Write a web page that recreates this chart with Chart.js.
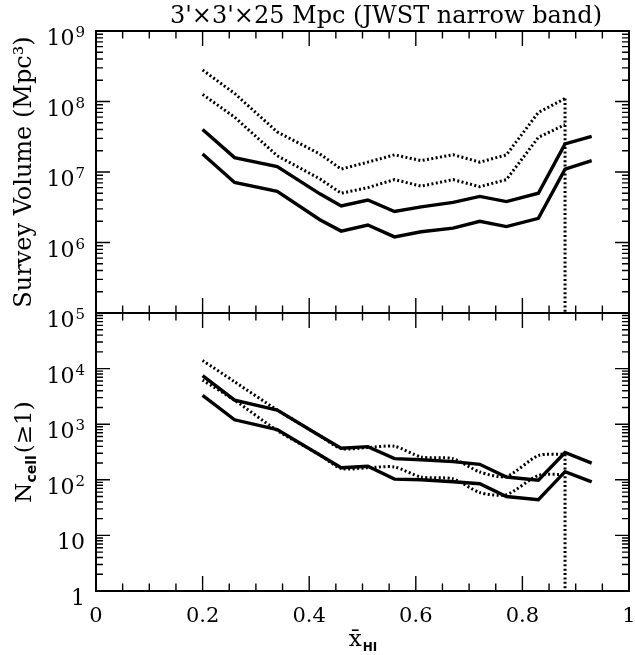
<!DOCTYPE html>
<html>
<head>
<meta charset="utf-8">
<script src="https://cdn.jsdelivr.net/npm/chart.js@4.4.0/dist/chart.umd.min.js"></script>
<style>
  body { margin: 0; background: #fff; }
</style>
</head>
<body>
<canvas id="chart" width="635" height="655"></canvas>
<script>
// mean neutral fraction of each run
let xHI = [0.2, 0.26, 0.34, 0.42, 0.46, 0.51, 0.56, 0.61, 0.67, 0.72, 0.77, 0.83, 0.88, 0.93];

// top panel: survey volume (Mpc^3)
let volSolidUpper = [4.0e7, 1.6e7, 1.19e7, 4.9e6, 3.3e6, 4.0e6, 2.75e6, 3.2e6, 3.7e6, 4.5e6, 3.8e6, 5.0e6, 2.5e7, 3.2e7];
let volSolidLower = [1.8e7, 7.1e6, 5.3e6, 2.1e6, 1.45e6, 1.77e6, 1.2e6, 1.42e6, 1.6e6, 2.0e6, 1.68e6, 2.2e6, 1.1e7, 1.45e7];
let volDotUpper = [2.8e8, 1.3e8, 3.7e7, 1.8e7, 1.1e7, 1.38e7, 1.75e7, 1.45e7, 1.76e7, 1.38e7, 1.75e7, 7.0e7, 1.1e8];
let volDotLower = [1.26e8, 6.0e7, 1.7e7, 8.0e6, 5.0e6, 6.0e6, 7.8e6, 6.3e6, 7.8e6, 6.2e6, 7.8e6, 3.1e7, 4.7e7];

// bottom panel: N_cell(>=1)
let nSolidUpper = [7.5e3, 2.7e3, 1.8e3, 620, 370, 395, 240, 230, 212, 190, 112, 98, 310, 200];
let nSolidLower = [3.3e3, 1.2e3, 800, 280, 165, 175, 103, 100, 92, 85, 50, 44, 140, 92];
let nDotUpper = [1.4e4, 5.8e3, 1.8e3, 620, 365, 380, 400, 257, 240, 138, 115, 273, 288];
let nDotLower = [6.2e3, 2.7e3, 770, 280, 160, 165, 170, 112, 104, 59, 54, 120, 124];

// axis ranges and tick labels
let volRange = [1e5, 1e9];
let nRange = [1, 1e5];
let xTickVals = [0, 0.2, 0.4, 0.6, 0.8, 1];
let xTickLabels = ['0', '0.2', '0.4', '0.6', '0.8', '1'];

const serif = '"DejaVu Serif", serif';
const sans = '"DejaVu Sans", sans-serif';

function pts(ys) {
    return ys.map((y, i) => ({ x: xHI[i], y: y }));
}

// dotted curves stop at the last run and drop to the bottom of the panel
function drop(ys, floor) {
    let last = ys.length - 1;
    return [{ x: xHI[last], y: ys[last] }, { x: xHI[last], y: floor }];
}

function solid(ys, axis) {
    return { data: pts(ys), yAxisID: axis, borderColor: '#000', borderWidth: 3.4, tension: 0 };
}

function dotted(data, axis, tension) {
    return { data: data, yAxisID: axis, borderColor: '#000', borderWidth: 3,
             borderDash: [2, 2.4], borderCapStyle: 'butt', tension: tension || 0 };
}

function drawPow(c, exp, xRight, y) {
    c.textAlign = 'right';
    if (exp < 2) {
        c.font = '22px ' + serif;
        c.fillText(exp === 0 ? '1' : '10', xRight, y + 14);
        return;
    }
    let sup = String(exp);
    c.font = '15px ' + serif;
    let w2 = c.measureText(sup).width;
    c.fillText(sup, xRight, y + 6);
    c.font = '22px ' + serif;
    c.fillText('10', xRight - w2 - 1, y + 14);
}

const framePlugin = {
    id: 'frame',
    afterDraw(chart) {
        let c = chart.ctx, a = chart.chartArea, sx = chart.scales.x;
        let sV = chart.scales.yV, sN = chart.scales.yN;
        c.save();
        c.strokeStyle = '#000';
        c.fillStyle = '#000';

        [sV, sN].forEach(s => {
            c.lineWidth = 2;
            c.strokeRect(a.left, s.top, a.right - a.left, s.bottom - s.top);

            c.lineWidth = 1.4;
            c.beginPath();
            for (let i = 0; i <= 20; i++) {
                let px = sx.getPixelForValue(i * 0.05);
                let len = (i % 4 === 0) ? 15 : 7.5;
                c.moveTo(px, s.top); c.lineTo(px, s.top + len);
                c.moveTo(px, s.bottom); c.lineTo(px, s.bottom - len);
            }
            let e0 = Math.round(Math.log10(s.min)), e1 = Math.round(Math.log10(s.max));
            for (let e = e0; e <= e1; e++) {
                for (let k = 1; k <= 9; k++) {
                    if (e === e1 && k > 1) break;
                    let py = s.getPixelForValue(k * Math.pow(10, e));
                    let len = k === 1 ? 14 : 7;
                    c.moveTo(a.left, py); c.lineTo(a.left + len, py);
                    c.moveTo(a.right, py); c.lineTo(a.right - len, py);
                }
            }
            c.stroke();
        });

        // y tick labels
        c.textBaseline = 'alphabetic';
        for (let e = Math.log10(volRange[0]); e <= Math.log10(volRange[1]); e++) {
            drawPow(c, e, 85, sV.getPixelForValue(Math.pow(10, e)));
        }
        for (let e = Math.log10(nRange[0]); e < Math.log10(nRange[1]); e++) {
            drawPow(c, e, 85, sN.getPixelForValue(Math.pow(10, e)));
        }

        // x tick labels
        c.font = '21px ' + serif;
        c.textAlign = 'center';
        xTickVals.forEach((v, i) => {
            c.fillText(xTickLabels[i], sx.getPixelForValue(v), a.bottom + 31);
        });

        // x axis title: x-bar with subscript HI
        let xc = sx.getPixelForValue(0.5);
        c.font = '23px ' + serif;
        let wx = c.measureText('x').width;
        c.font = 'bold 12px ' + sans;
        let wh = c.measureText('HI').width;
        let x0 = xc - (wx + wh) / 2;
        c.textAlign = 'left';
        c.font = '23px ' + serif;
        c.fillText('x\u0304', x0, a.bottom + 55);
        c.font = 'bold 12px ' + sans;
        c.fillText('HI', x0 + wx + 1, a.bottom + 60);

        // title
        c.font = '24px ' + serif;
        c.textAlign = 'center';
        c.fillText("3'\u00d73'\u00d725 Mpc (JWST narrow band)", 386, 23);

        // y axis titles
        c.save();
        c.translate(31, (sV.top + sV.bottom) / 2);
        c.rotate(-Math.PI / 2);
        c.textAlign = 'center';
        c.font = '24px ' + serif;
        c.fillText('Survey Volume (Mpc\u00b3)', 0, 0);
        c.restore();

        c.save();
        c.translate(31, (sN.top + sN.bottom) / 2);
        c.rotate(-Math.PI / 2);
        c.font = '23px ' + serif;
        let wN = c.measureText('N').width, wP = c.measureText('(\u22651)').width;
        c.font = 'bold 14px ' + sans;
        let wc = c.measureText('cell').width;
        let tx = -(wN + wc + wP + 2) / 2;
        c.textAlign = 'left';
        c.font = '23px ' + serif;
        c.fillText('N', tx, 0);
        c.font = 'bold 14px ' + sans;
        c.fillText('cell', tx + wN, 5);
        c.font = '23px ' + serif;
        c.fillText('(\u22651)', tx + wN + wc + 2, 0);
        c.restore();

        c.restore();
    }
};

function hiddenAxis(extra) {
    return Object.assign({
        ticks: { display: false },
        grid: { display: false },
        border: { display: false },
        afterFit: s => { if (s.isHorizontal()) s.height = 0; else s.width = 0; }
    }, extra);
}

let ctx = document.getElementById('chart').getContext('2d');

let chart = new Chart(ctx, {
    type: 'line',
    data: {
        datasets: [
            solid(volSolidUpper, 'yV'),
            solid(volSolidLower, 'yV'),
            dotted(pts(volDotUpper), 'yV'),
            dotted(pts(volDotLower), 'yV'),
            dotted(drop(volDotUpper, volRange[0]), 'yV'),
            solid(nSolidUpper, 'yN'),
            solid(nSolidLower, 'yN'),
            dotted(pts(nDotUpper), 'yN', 0.25),
            dotted(pts(nDotLower), 'yN', 0.25),
            dotted(drop(nDotUpper, nRange[0]), 'yN')
        ]
    },
    options: {
        responsive: false,
        animation: false,
        layout: { padding: { left: 96, top: 31, right: 6, bottom: 64 } },
        elements: { point: { radius: 0 } },
        plugins: { legend: { display: false }, tooltip: { enabled: false } },
        scales: {
            x: hiddenAxis({ type: 'linear', min: 0, max: 1 }),
            yN: hiddenAxis({ type: 'logarithmic', position: 'left', stack: 'panels', stackWeight: 278,
                             min: nRange[0], max: nRange[1] }),
            yV: hiddenAxis({ type: 'logarithmic', position: 'left', stack: 'panels', stackWeight: 282,
                             min: volRange[0], max: volRange[1] })
        }
    },
    plugins: [framePlugin]
});
</script>
</body>
</html>
